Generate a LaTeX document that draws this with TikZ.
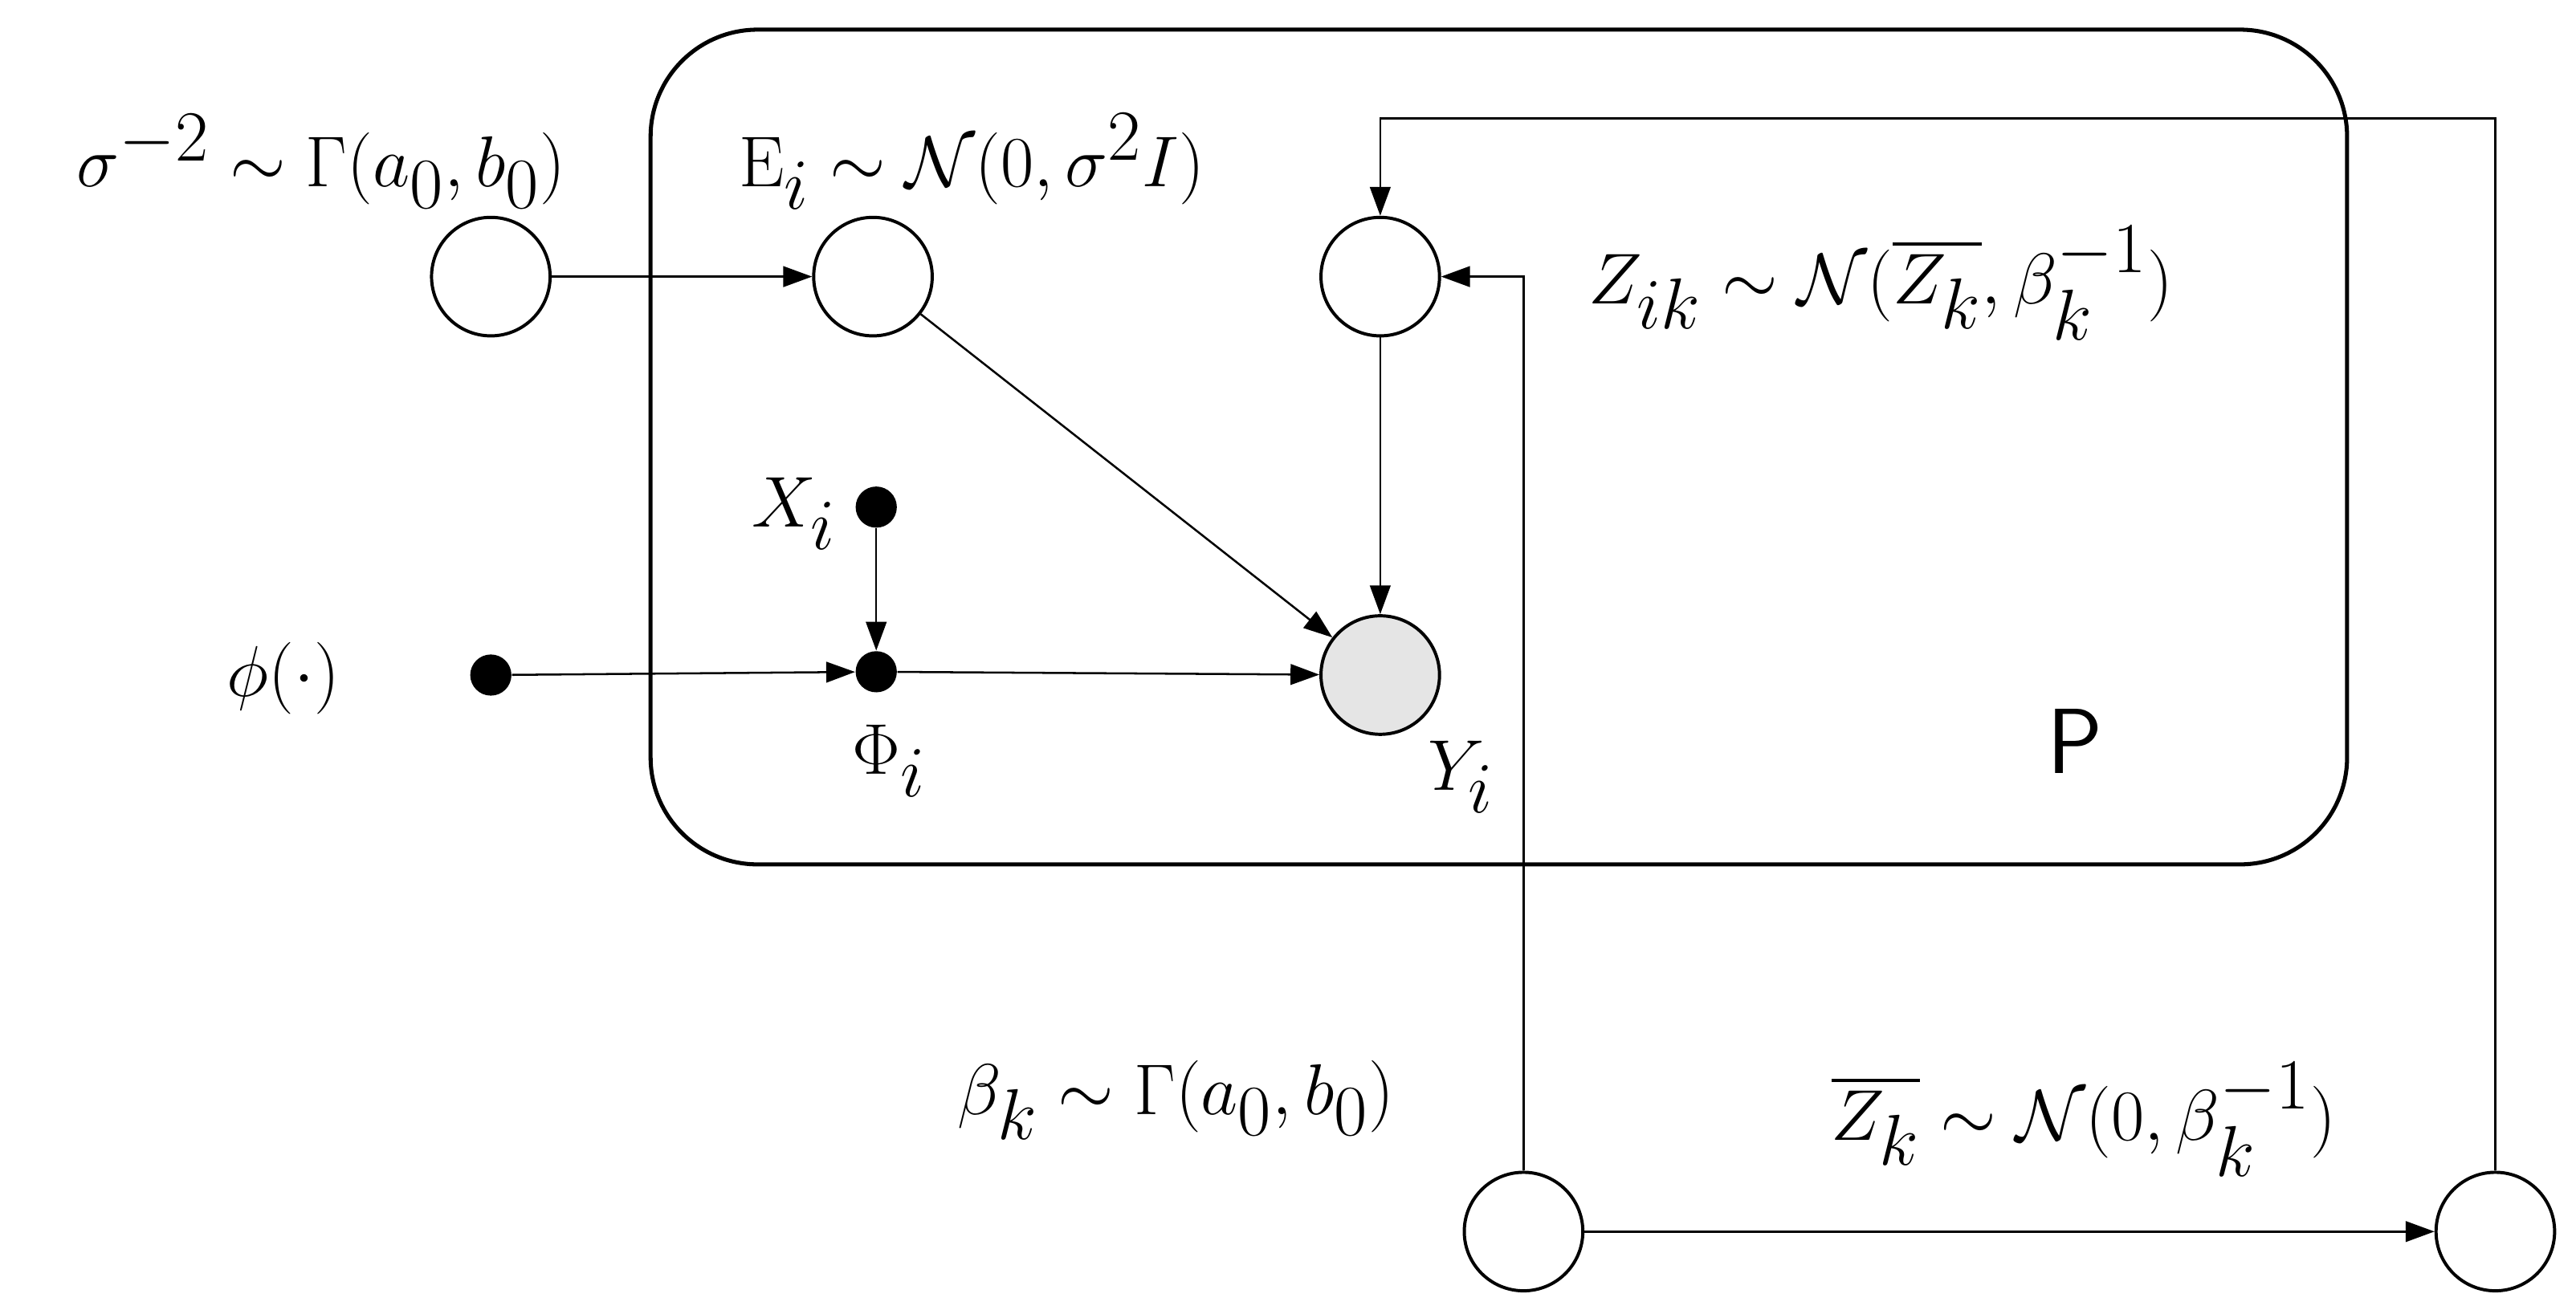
\documentclass[tikz,border=0pt]{standalone}
\usepackage{amsmath}
\usetikzlibrary{arrows.meta}
\begin{document}
\begin{tikzpicture}[x=0.02cm,y=-0.02cm,
  rv/.style={circle,draw,line width=1.1pt,minimum size=1.44cm,inner sep=0pt},
  dotn/.style={circle,fill=black,minimum size=0.5cm,inner sep=0pt},
  lab/.style={font=\fontsize{36}{42}\selectfont,inner sep=0pt},
  edge/.style={-{Triangle[length=0.35cm,width=0.25cm]},line width=0.7pt}]
\useasboundingbox (0,0) rectangle (1564,798);
\draw[line width=1.4pt,rounded corners=1.3cm] (395,18) rectangle (1425,525);
\node[rv] (sig) at (298,168) {};
\node[rv] (E) at (530,168) {};
\node[rv] (Z) at (838,168) {};
\node[dotn] (X) at (532,308) {};
\node[dotn] (Phi) at (532,408) {};
\node[dotn] (phi) at (298,410) {};
\node[rv,fill=gray!20] (Y) at (838,410) {};
\node[rv] (beta) at (925,748) {};
\node[rv] (Zb) at (1515,748) {};
\node[lab] (l1) at (195,98) {$\sigma^{-2}\sim\Gamma(a_0,b_0)$};
\node[lab] (l2) at (590,98) {$\mathrm{E}_i\sim\mathcal{N}(0,\sigma^2I)$};
\node[lab] (l3) at (1142,172) {$Z_{ik}\sim\mathcal{N}(\overline{Z_k},\beta_k^{-1})$};
\node[lab] (l4) at (482,312) {$X_i$};
\node[lab] (l5) at (172,412) {$\phi(\cdot)$};
\node[lab] (l6) at (540,462) {$\Phi_i$};
\node[lab] (l7) at (887,472) {$Y_i$};
\node[lab,font=\fontsize{32}{38}\selectfont\sffamily] (l8) at (1260,450) {P};
\node[lab] (l9) at (714,668) {$\beta_k\sim\Gamma(a_0,b_0)$};
\node[lab] (l10) at (1265,680) {$\overline{Z_k}\sim\mathcal{N}(0,\beta_k^{-1})$};
\draw[edge] (sig) -- (E);
\draw[edge] (E) -- (Y);
\draw[edge] (Z) -- (Y);
\draw[edge] (X) -- (Phi);
\draw[edge] (phi) -- (Phi);
\draw[edge] (Phi) -- (Y);
\draw[edge] (beta) -- (Zb);
\draw[edge] (beta.north) -- (925,168) -- (Z.east);
\draw[edge] (Zb.north) -- (1515,72) -- (838,72) -- (Z.north);
\end{tikzpicture}
\end{document}
